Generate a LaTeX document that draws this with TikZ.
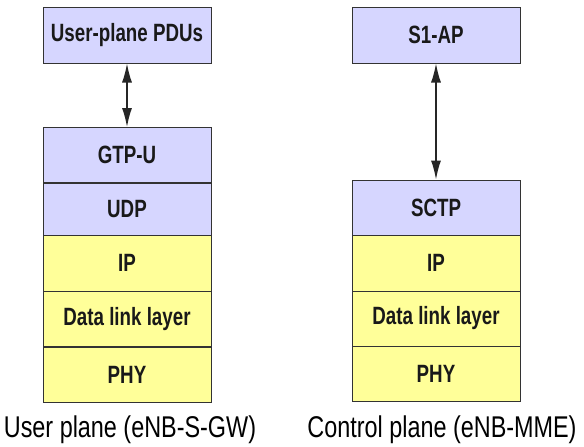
\documentclass[tikz,border=0pt]{standalone}
\usepackage{fontspec}
\setmainfont{Liberation Sans}
\newfontfamily\narrowfont[FakeStretch=0.75]{Liberation Sans}
\newfontfamily\capfont[FakeStretch=0.78]{Liberation Sans}
\usetikzlibrary{arrows.meta}
\definecolor{lav}{HTML}{D6D6FF}
\definecolor{yel}{HTML}{FFFF99}
\definecolor{edge}{HTML}{333333}
\tikzset{
  layer/.style={draw=edge, line width=1pt, minimum width=168pt, minimum height=55pt,
    inner sep=0pt, font=\narrowfont\bfseries\fontsize{25}{28}\selectfont, text=black!90},
  upper/.style={layer, fill=lav},
  lower/.style={layer, fill=yel},
  caption/.style={font=\capfont\fontsize{30}{33}\selectfont, inner sep=0pt},
  biarrow/.style={{Latex[length=19pt,width=10pt]}-{Latex[length=19pt,width=10pt]}, line width=1.3pt, black!85}
}
\begin{document}
\begin{tikzpicture}[x=1pt,y=-1pt]
\useasboundingbox (0,0) rectangle (584,447);
% left column
\node[upper, minimum height=56pt] (pdu) at (127,35) {User-plane PDUs};
\node[upper] (gtp) at (127,155) {GTP-U};
\node[upper, minimum height=52pt] (udp) at (127,209) {UDP};
\node[lower, minimum height=56pt] (ipl) at (127,263) {IP};
\node[lower] (dll) at (127,319) {Data link layer};
\node[lower] (phyl) at (127,374.5) {PHY};
\node[caption] (capl) at (130,430) {User plane (eNB-S-GW)};
\draw[biarrow] (pdu.south) -- (gtp.north);
% right column
\node[upper, minimum height=56pt] (s1ap) at (436,35) {S1-AP};
\node[upper] (sctp) at (436,207.5) {SCTP};
\node[lower, minimum height=56pt] (ipr) at (436,263) {IP};
\node[lower] (dlr) at (436,318.5) {Data link layer};
\node[lower] (phyr) at (436,374) {PHY};
\node[caption] (capr) at (442,430) {Control plane (eNB-MME)};
\draw[biarrow] (s1ap.south) -- (sctp.north);
\end{tikzpicture}
\end{document}
